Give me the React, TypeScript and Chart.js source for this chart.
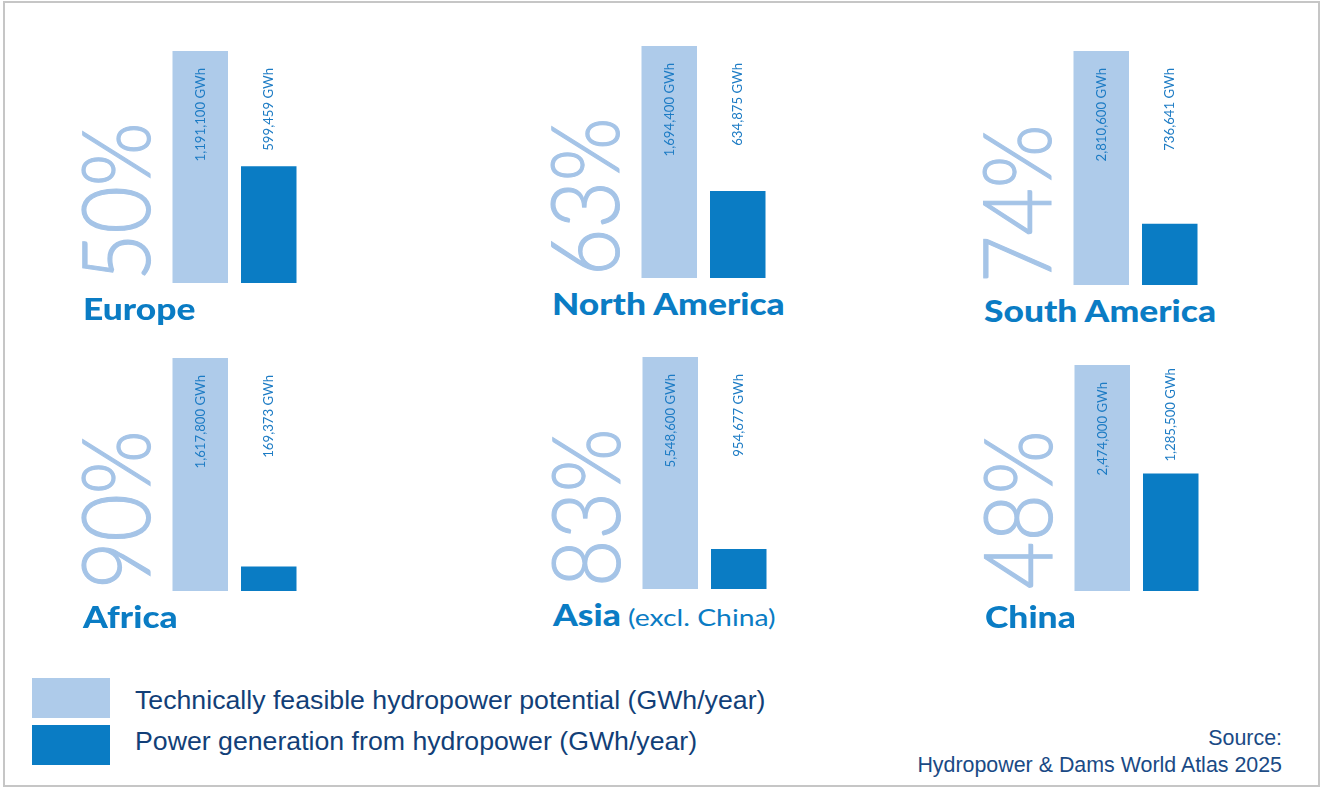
import React, { useEffect, useRef } from "react";
import { Chart, registerables } from "chart.js";

Chart.register(...registerables);

// ---------- data ----------
const REGIONS = ["Europe", "North America", "South America", "Africa", "Asia", "China"];
const REGION_NOTES = ["", "", "", "", "(excl. China)", ""];
const POTENTIAL_GWH = [1191100, 1694400, 2810600, 1617800, 5548600, 2474000];
const GENERATION_GWH = [599459, 634875, 736641, 169373, 954677, 1285500];
const UNTAPPED_PCT = [50, 63, 74, 90, 83, 48];
const SERIES_NAMES = [
  "Technically feasible hydropower potential (GWh/year)",
  "Power generation from hydropower (GWh/year)",
];
const SOURCE_LINES = ["Source:", "Hydropower & Dams World Atlas 2025"];

// ---------- layout & style ----------
const LIGHT = "#aecbea";
const DARK = "#0a7cc4";
const PCT_COLOR = "#a5c4e7";
const VALUE_COLOR = "#1c7bc4";
const NAVY = "#123f78";

// light-bar left edge, top of bars, bar height
const PANEL_BOX = [
  { left: 172, top: 51, height: 232 },
  { left: 641, top: 46, height: 232 },
  { left: 1073, top: 51, height: 234 },
  { left: 172, top: 358, height: 233 },
  { left: 642, top: 357, height: 232 },
  { left: 1074, top: 365, height: 226 },
];
const CAT_W = 68.5;
const BAR_W = 55.5;

const fmt = (v: number) => v.toLocaleString("en-US") + " GWh";

function Panel({ i }: { i: number }) {
  const ref = useRef<HTMLCanvasElement | null>(null);
  const box = PANEL_BOX[i];
  const canvasLeft = box.left - (CAT_W - BAR_W) / 2;
  const canvasW = CAT_W * 2;

  useEffect(() => {
    if (!ref.current) return;
    const labelPlugin = {
      id: "valueLabels",
      afterDatasetsDraw(chart: any) {
        const ctx = chart.ctx as CanvasRenderingContext2D;
        const meta = chart.getDatasetMeta(0);
        const a = meta.data[0] as any;
        const b = meta.data[1] as any;
        ctx.save();
        ctx.font = "400 13.2px Lato, 'Noto Sans', sans-serif";
        ctx.fillStyle = VALUE_COLOR;
        ctx.textBaseline = "middle";
        const topY = a.y + 17;
        // potential label: inside light bar, ending near its top
        ctx.save();
        ctx.translate(a.x, topY);
        ctx.rotate(-Math.PI / 2);
        ctx.textAlign = "right";
        ctx.fillText(fmt(POTENTIAL_GWH[i]), 0, 0);
        ctx.restore();
        // generation label: top-aligned with the potential label, kept above the dark bar
        const t2 = fmt(GENERATION_GWH[i]);
        const w2 = ctx.measureText(t2).width;
        const bottom = Math.min(topY + w2, b.y - 12);
        ctx.save();
        ctx.translate(b.x, bottom);
        ctx.rotate(-Math.PI / 2);
        ctx.textAlign = "left";
        ctx.fillText(t2, 0, 0);
        ctx.restore();
        ctx.restore();
      },
    };
    const chart = new Chart(ref.current, {
      type: "bar",
      data: {
        labels: SERIES_NAMES,
        datasets: [
          {
            data: [POTENTIAL_GWH[i], GENERATION_GWH[i]],
            backgroundColor: [LIGHT, DARK],
            borderWidth: 0,
            barPercentage: 1,
            categoryPercentage: BAR_W / CAT_W,
          },
        ],
      },
      options: {
        responsive: false,
        animation: false,
        devicePixelRatio: 1,
        layout: { padding: 0 },
        plugins: { legend: { display: false }, tooltip: { enabled: false } },
        scales: {
          x: { display: false },
          y: { display: false, min: 0, max: POTENTIAL_GWH[i] },
        },
      },
      plugins: [labelPlugin],
    });
    return () => chart.destroy();
  }, [i]);

  const bottom = box.top + box.height;
  const pctSize = 94;
  return (
    <>
      <canvas
        ref={ref}
        width={canvasW}
        height={box.height}
        style={{ position: "absolute", left: canvasLeft, top: box.top, width: canvasW, height: box.height }}
      />
      <div
        style={{
          position: "absolute",
          left: box.left - 89 - 0.167 * pctSize,
          top: bottom - 2,
          transformOrigin: "0 0",
          transform: "rotate(-90deg) scaleX(0.87)",
          fontFamily: "Lato, sans-serif",
          fontWeight: 300,
          fontSize: pctSize,
          lineHeight: 1,
          color: PCT_COLOR,
          WebkitTextStroke: `1.2px ${PCT_COLOR}`,
          whiteSpace: "nowrap",
        }}
      >
        {UNTAPPED_PCT[i]}%
      </div>
      <div
        style={{
          position: "absolute",
          left: box.left - 89,
          top: bottom + 37 - 26.6,
          transformOrigin: "0 0",
          transform: "scaleX(1.18)",
          fontFamily: "Lato, sans-serif",
          fontSize: 30,
          lineHeight: 1,
          color: DARK,
          whiteSpace: "nowrap",
        }}
      >
        <span style={{ fontWeight: 900 }}>{REGIONS[i]}</span>
        {REGION_NOTES[i] ? (
          <span style={{ fontWeight: 400, fontSize: 24 }}> {REGION_NOTES[i]}</span>
        ) : null}
      </div>
    </>
  );
}

export default function App() {
  return (
    <div
      style={{
        position: "fixed",
        left: 0,
        top: 0,
        width: 1322,
        height: 787,
        background: "#ffffff",
        overflow: "hidden",
      }}
    >
      <div
        style={{
          position: "absolute",
          left: 3,
          top: 1,
          width: 1313,
          height: 782,
          border: "2px solid #c6c6c6",
        }}
      />
      {REGIONS.map((_, i) => (
        <Panel key={i} i={i} />
      ))}
      {SERIES_NAMES.map((name, k) => (
        <React.Fragment key={name}>
          <div
            style={{
              position: "absolute",
              left: 32,
              top: 678 + k * 47,
              width: 78,
              height: 40,
              background: k === 0 ? LIGHT : DARK,
            }}
          />
          <div
            style={{
              position: "absolute",
              left: 135,
              top: 683.7 + k * 41,
              fontFamily: "'Liberation Sans', Arial, sans-serif",
              fontSize: 26.7,
              lineHeight: "32px",
              color: NAVY,
              whiteSpace: "nowrap",
            }}
          >
            {name}
          </div>
        </React.Fragment>
      ))}
      <div
        style={{
          position: "absolute",
          right: 1322 - 1282,
          top: 725.3,
          textAlign: "right",
          fontFamily: "'Liberation Sans', Arial, sans-serif",
          fontSize: 21.4,
          lineHeight: "26.5px",
          color: "#1a4a85",
          whiteSpace: "nowrap",
        }}
      >
        {SOURCE_LINES.map((s) => (
          <div key={s}>{s}</div>
        ))}
      </div>
    </div>
  );
}
